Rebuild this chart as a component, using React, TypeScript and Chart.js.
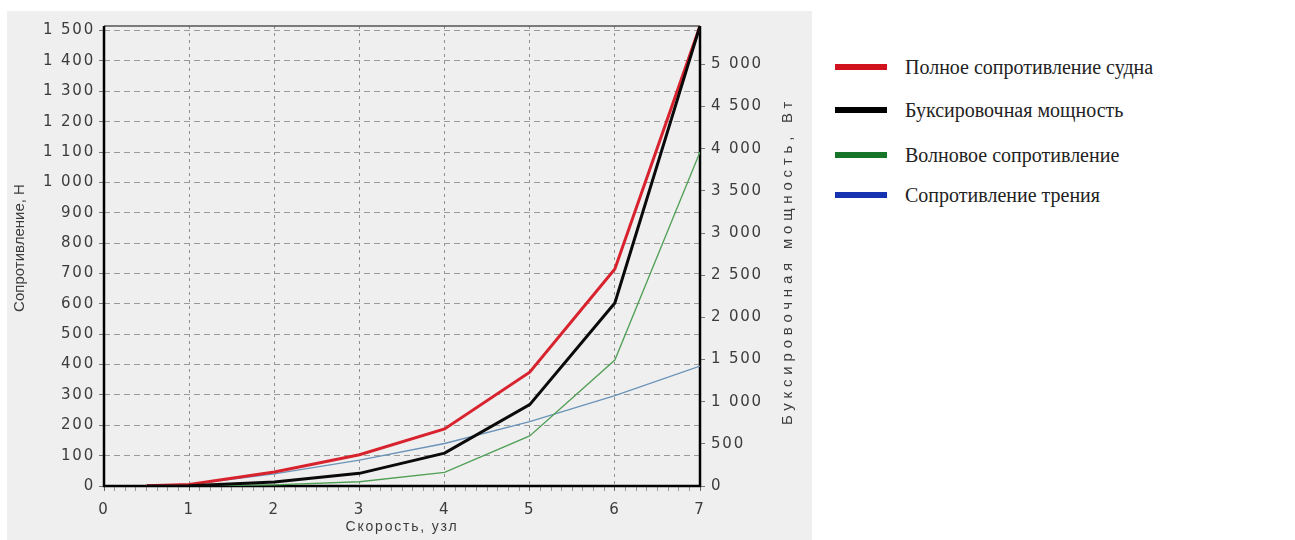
import React, { useEffect, useRef } from "react";
import { Chart, registerables } from "chart.js";

Chart.register(...registerables);

// ---- data ----
const speeds = [0.5, 1, 2, 3, 4, 5, 6, 7]; // knots
const totalResistance = [1, 5, 46, 103, 188, 375, 715, 1515]; // N
const towingPower = [0.3, 2.6, 47, 150, 390, 965, 2170, 5455]; // W
const waveResistance = [0, 0, 4, 14, 45, 165, 415, 1100]; // N
const frictionResistance = [1, 5, 40, 85, 140, 212, 298, 395]; // N

const rightTickValues = [0, 500, 1000, 1500, 2000, 2500, 3000, 3500, 4000, 4500, 5000];

const seriesLabels = [
  "Полное сопротивление судна",
  "Буксировочная мощность",
  "Волновое сопротивление",
  "Сопротивление трения",
];
const lineColors = ["#d8232e", "#0a0a0a", "#4f9f55", "#6a93b8"];
const legendColors = ["#d0121c", "#000000", "#17752a", "#1533b0"];

const xTitle = "Скорость, узл";
const yLeftTitle = "Сопротивление, Н";
const yRightTitle = "Буксировочная мощность, Вт";

const xMin = 0;
const xMax = 7;
const leftMax = 1515;
const rightMax = 5455;

const fmt = (v: number) => {
  const s = String(Math.round(v));
  return s.replace(/\B(?=(\d{3})+(?!\d))/g, " ");
};

const pts = (ys: number[]) => speeds.map((x, i) => ({ x, y: ys[i] }));

const tickFont = { family: "'DejaVu Sans', sans-serif", size: 15 };
const titleFont = { family: "'Liberation Sans', Arial, sans-serif", size: 14 };
const yTitleFamily = "'Liberation Sans', Arial, sans-serif";
const textColor = "#3c3c3c";
const wideSpacing = "1.8px";

const framePlugin = {
  id: "frame",
  beforeLayout(chart: any) {
    chart.ctx.letterSpacing = wideSpacing;
  },
  beforeDraw(chart: any) {
    chart.ctx.letterSpacing = wideSpacing;
  },
  beforeDatasetsDraw(chart: any) {
    const { ctx, chartArea: a } = chart;
    ctx.save();
    ctx.strokeStyle = "#555";
    ctx.lineWidth = 1.5;
    ctx.beginPath();
    ctx.moveTo(a.left, a.top);
    ctx.lineTo(a.right, a.top);
    ctx.stroke();
    ctx.strokeStyle = "#000";
    ctx.lineWidth = 2.5;
    ctx.beginPath();
    ctx.moveTo(a.left, a.top);
    ctx.lineTo(a.left, a.bottom);
    ctx.lineTo(a.right, a.bottom);
    ctx.lineTo(a.right, a.top);
    ctx.stroke();
    ctx.restore();
  },
  afterDraw(chart: any) {
    const { ctx, chartArea: a } = chart;
    const mid = (a.top + a.bottom) / 2;
    const yl = chart.scales.y;
    const yr = chart.scales.y1;
    ctx.save();
    ctx.fillStyle = textColor;
    ctx.textAlign = "center";
    ctx.textBaseline = "middle";
    // left title
    ctx.save();
    ctx.letterSpacing = "0px";
    ctx.font = `15px ${yTitleFamily}`;
    ctx.translate(yl.left + 13, mid - 8);
    ctx.rotate(-Math.PI / 2);
    ctx.fillText(yLeftTitle, 0, 0);
    ctx.restore();
    // right title
    ctx.save();
    ctx.letterSpacing = "4.8px";
    ctx.font = `15px ${yTitleFamily}`;
    ctx.translate(yr.right - 24, mid + 5);
    ctx.rotate(-Math.PI / 2);
    ctx.fillText(yRightTitle, 0, 0);
    ctx.restore();
    ctx.restore();
  },
};

function ChartView() {
  const ref = useRef<HTMLCanvasElement>(null);
  useEffect(() => {
    if (!ref.current) return;
    const chart = new Chart(ref.current, {
      type: "line",
      data: {
        datasets: [
          {
            label: seriesLabels[0],
            data: pts(totalResistance),
            borderColor: lineColors[0],
            borderWidth: 3,
            yAxisID: "y",
            order: 1,
          },
          {
            label: seriesLabels[1],
            data: pts(towingPower),
            borderColor: lineColors[1],
            borderWidth: 3,
            yAxisID: "y1",
            order: 0,
          },
          {
            label: seriesLabels[2],
            data: pts(waveResistance),
            borderColor: lineColors[2],
            borderWidth: 1.3,
            yAxisID: "y",
            order: 2,
          },
          {
            label: seriesLabels[3],
            data: pts(frictionResistance),
            borderColor: lineColors[3],
            borderWidth: 1.3,
            yAxisID: "y",
            order: 3,
          },
        ],
      },
      options: {
        responsive: false,
        animation: false,
        events: [],
        layout: { padding: { top: 10, left: 0, right: 0, bottom: 0 } },
        elements: { point: { radius: 0 }, line: { tension: 0 } },
        plugins: { legend: { display: false }, tooltip: { enabled: false } },
        scales: {
          x: {
            type: "linear",
            min: xMin,
            max: xMax,
            afterFit: (s: any) => {
              s.height = 54;
            },
            ticks: {
              stepSize: 0.125,
              autoSkip: false,
              maxTicksLimit: 100,
              maxRotation: 0,
              padding: 10,
              color: textColor,
              font: tickFont,
              callback: (v: any) => (Number.isInteger(Number(v)) ? String(v) : ""),
            },
            grid: {
              color: (c: any) =>
                Number.isInteger(c.tick?.value) && c.tick.value > xMin && c.tick.value < xMax
                  ? "#8f8f8f"
                  : "rgba(0,0,0,0)",
              tickColor: (c: any) => (Number.isInteger(c.tick?.value) ? "#666" : "#999"),
              tickLength: 5,
              tickBorderDash: [],
              lineWidth: 1,
            },
            border: { display: false, dash: [3, 4] },
            title: {
              display: true,
              text: xTitle,
              color: textColor,
              font: titleFont,
              padding: { top: 0, bottom: 4 },
            },
          },
          y: {
            type: "linear",
            position: "left",
            min: 0,
            max: leftMax,
            afterFit: (s: any) => {
              s.width = 97;
            },
            ticks: {
              stepSize: 100,
              maxTicksLimit: 30,
              includeBounds: false,
              padding: 4,
              color: textColor,
              font: tickFont,
              callback: (v: any) => fmt(Number(v)),
            },
            grid: {
              color: (c: any) => (c.tick?.value > 0 ? "#9a9a9a" : "rgba(0,0,0,0)"),
              tickColor: "#777",
              tickLength: 5,
              tickBorderDash: [],
            },
            border: { display: false, dash: [6, 4] },
            title: { display: false, text: yLeftTitle },
          },
          y1: {
            type: "linear",
            position: "right",
            min: 0,
            max: rightMax,
            afterFit: (s: any) => {
              s.width = 112;
            },
            afterBuildTicks: (s: any) => {
              s.ticks = rightTickValues.map((value) => ({ value }));
            },
            ticks: {
              padding: 6,
              color: textColor,
              font: tickFont,
              callback: (v: any) => fmt(Number(v)),
            },
            grid: {
              drawOnChartArea: false,
              tickColor: "#777",
              tickLength: 5,
            },
            border: { display: false },
            title: { display: false, text: yRightTitle },
          },
        },
      },
      plugins: [framePlugin],
    } as any);
    return () => chart.destroy();
  }, []);
  return <canvas ref={ref} width={805} height={529} style={{ display: "block" }} />;
}

const legendTops = [67, 110, 155, 195];

export default function App() {
  return (
    <div
      style={{
        position: "absolute",
        left: 0,
        top: 0,
        width: 1295,
        height: 540,
        background: "#ffffff",
        overflow: "hidden",
      }}
    >
      <div
        style={{
          position: "absolute",
          left: 7,
          top: 11,
          width: 805,
          height: 529,
          background: "#efefef",
        }}
      >
        <ChartView />
      </div>
      {seriesLabels.map((label, i) => (
        <div
          key={label}
          style={{
            position: "absolute",
            left: 835,
            top: legendTops[i] - 15,
            height: 30,
            display: "flex",
            alignItems: "center",
            whiteSpace: "nowrap",
          }}
        >
          <div style={{ width: 52, height: 6, background: legendColors[i], marginRight: 18 }} />
          <span
            style={{
              fontFamily: "'Liberation Serif', 'DejaVu Serif', serif",
              fontSize: 20,
              color: "#222",
            }}
          >
            {label}
          </span>
        </div>
      ))}
    </div>
  );
}
